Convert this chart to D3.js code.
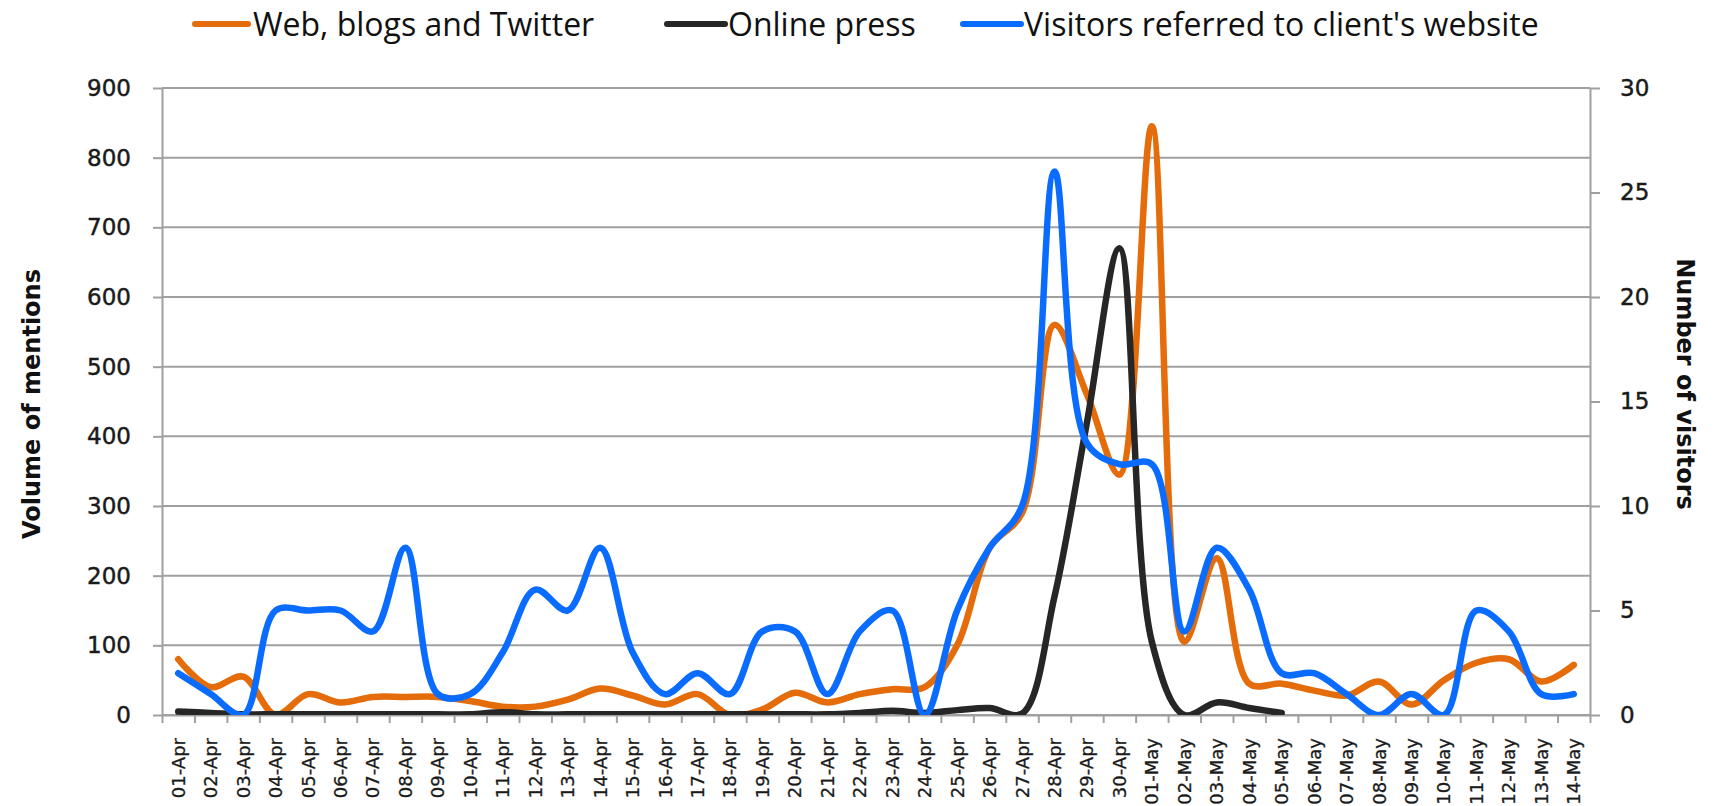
<!DOCTYPE html>
<html>
<head>
<meta charset="utf-8">
<script src="https://cdn.jsdelivr.net/npm/d3@7"></script>
<style>
  html, body { margin: 0; padding: 0; background: #ffffff; }
  svg { display: block; }
</style>
</head>
<body>
<svg id="chart" width="1723" height="806"></svg>
<script>
// Daily categories, 1 April to 14 May
const dates = [
  "01-Apr","02-Apr","03-Apr","04-Apr","05-Apr","06-Apr","07-Apr","08-Apr","09-Apr","10-Apr",
  "11-Apr","12-Apr","13-Apr","14-Apr","15-Apr","16-Apr","17-Apr","18-Apr","19-Apr","20-Apr",
  "21-Apr","22-Apr","23-Apr","24-Apr","25-Apr","26-Apr","27-Apr","28-Apr","29-Apr","30-Apr",
  "01-May","02-May","03-May","04-May","05-May","06-May","07-May","08-May","09-May","10-May",
  "11-May","12-May","13-May","14-May"
];

// Volume of mentions on the web, blogs and Twitter (left axis)
const webMentions = [
  80, 40, 55, 0, 30, 18, 26, 26, 26, 20,
  12, 12, 22, 38, 28, 15, 30, 0, 8, 32,
  18, 30, 37, 40, 100, 240, 290, 560, 460, 345,
  845, 105, 225, 45, 45, 35, 28, 48, 15, 50,
  75, 80, 48, 72
];

// Volume of mentions in the online press (left axis); no data after 05-May
const pressMentions = [
  5, 3, 1, 1, 1, 1, 1, 1, 1, 1,
  4, 1, 1, 1, 1, 1, 1, 1, 1, 1,
  1, 3, 6, 3, 7, 10, 2, 170, 420, 670,
  105, 0, 18, 10, 3, null, null, null, null, null,
  null, null, null, null
];

// Visitors referred to the client's website (right axis)
const visitors = [
  2, 1, 0, 5, 5, 5, 4, 8, 1, 1,
  3, 6, 5, 8, 3, 1, 2, 1, 4, 4,
  1, 4, 5, 0, 5, 8, 10, 26, 13, 12,
  12, 4, 8, 6, 2, 2, 1, 0, 1, 0,
  5, 4, 1, 1
];

const mentionTicks = [0, 100, 200, 300, 400, 500, 600, 700, 800, 900];
const visitorTicks = [0, 5, 10, 15, 20, 25, 30];

const seriesNames = ["Web, blogs and Twitter", "Online press", "Visitors referred to client's website"];

// ---- layout ----
const plot = { left: 162, right: 1590, top: 88, bottom: 715 };
const colors = { web: "#e46c0a", press: "#262626", visitors: "#0a6cff" };
const gridColor = "#a0a0a0";
const textColor = "#1a1a1a";
const tickFont = "'DejaVu Sans', Verdana, sans-serif";

const svg = d3.select("#chart");

const x = d3.scaleBand().domain(dates).range([plot.left, plot.right]).paddingInner(0).paddingOuter(0);
const xEdge = d3.scaleLinear().domain([0, dates.length]).range([plot.left, plot.right]);
const yL = d3.scaleLinear().domain([0, 900]).range([plot.bottom, plot.top]);
const yR = d3.scaleLinear().domain([0, 30]).range([plot.bottom, plot.top]);
const cx = d => x(d) + x.bandwidth() / 2;

// horizontal gridlines from the left axis
svg.append("g")
  .selectAll("line")
  .data(mentionTicks)
  .join("line")
  .attr("x1", plot.left).attr("x2", plot.right)
  .attr("y1", d => yL(d)).attr("y2", d => yL(d))
  .attr("stroke", gridColor).attr("stroke-width", 2);

function styleTickText(sel) {
  sel.attr("font-family", tickFont).attr("font-size", 23).attr("fill", textColor)
    .attr("stroke", textColor).attr("stroke-width", 0.45);
}

// left axis
const leftAxis = svg.append("g")
  .attr("transform", `translate(${plot.left},0)`)
  .call(d3.axisLeft(yL).tickValues(mentionTicks).tickSize(9).tickSizeOuter(0).tickPadding(22));
leftAxis.select(".domain").attr("stroke", gridColor).attr("stroke-width", 2);
leftAxis.selectAll(".tick line").attr("stroke", gridColor).attr("stroke-width", 2);
leftAxis.selectAll(".tick text").call(styleTickText);

// right axis
const rightAxis = svg.append("g")
  .attr("transform", `translate(${plot.right},0)`)
  .call(d3.axisRight(yR).tickValues(visitorTicks).tickSize(10).tickSizeOuter(0).tickPadding(20));
rightAxis.select(".domain").attr("stroke", gridColor).attr("stroke-width", 2);
rightAxis.selectAll(".tick line").attr("stroke", gridColor).attr("stroke-width", 2);
rightAxis.selectAll(".tick text").call(styleTickText);

// bottom axis: tick marks between categories
const bottomAxis = svg.append("g")
  .attr("transform", `translate(0,${plot.bottom})`)
  .call(d3.axisBottom(xEdge).tickValues(d3.range(0, dates.length + 1)).tickSize(8).tickSizeOuter(0).tickFormat(""));
bottomAxis.select(".domain").attr("stroke", gridColor).attr("stroke-width", 2);
bottomAxis.selectAll(".tick line").attr("stroke", gridColor).attr("stroke-width", 2);

// rotated category labels
svg.append("g")
  .selectAll("text")
  .data(dates)
  .join("text")
  .attr("transform", d => `translate(${cx(d)},738) rotate(-90)`)
  .attr("text-anchor", "end")
  .attr("dy", "0.36em")
  .attr("font-family", tickFont)
  .attr("font-size", 18)
  .attr("fill", textColor)
  .attr("stroke", textColor).attr("stroke-width", 0.3)
  .text(d => d);

// axis titles
svg.append("text")
  .attr("transform", `translate(40,404) rotate(-90)`)
  .attr("text-anchor", "middle")
  .attr("font-family", tickFont).attr("font-weight", "bold").attr("font-size", 24)
  .attr("fill", "#111")
  .text("Volume of mentions");

svg.append("text")
  .attr("transform", `translate(1677,384) rotate(90)`)
  .attr("text-anchor", "middle")
  .attr("font-family", tickFont).attr("font-weight", "bold").attr("font-size", 24)
  .attr("fill", "#111")
  .text("Number of visitors");

// clip the smoothed lines to the plot area
svg.append("defs").append("clipPath").attr("id", "plot-clip")
  .append("rect")
  .attr("x", plot.left).attr("y", plot.top)
  .attr("width", plot.right - plot.left).attr("height", plot.bottom - plot.top);

const lines = svg.append("g").attr("clip-path", "url(#plot-clip)");
const curve = d3.curveCatmullRom.alpha(0.5);

function drawSeries(values, yScale, color) {
  const rows = dates.map((d, i) => ({ d, v: values[i] }));
  const line = d3.line()
    .defined(r => r.v !== null)
    .x(r => cx(r.d))
    .y(r => yScale(r.v))
    .curve(curve);
  lines.append("path")
    .datum(rows)
    .attr("d", line)
    .attr("fill", "none")
    .attr("stroke", color)
    .attr("stroke-width", 6.5)
    .attr("stroke-linejoin", "round")
    .attr("stroke-linecap", "round");
}

drawSeries(webMentions, yL, colors.web);
drawSeries(pressMentions, yL, colors.press);
drawSeries(visitors, yR, colors.visitors);

// legend
const legendItems = [
  { name: seriesNames[0], color: colors.web, x0: 195, x1: 248, tx: 253 },
  { name: seriesNames[1], color: colors.press, x0: 667, x1: 725, tx: 728 },
  { name: seriesNames[2], color: colors.visitors, x0: 963, x1: 1021, tx: 1024 }
];
const legend = svg.append("g");
legendItems.forEach(item => {
  legend.append("line")
    .attr("x1", item.x0).attr("x2", item.x1)
    .attr("y1", 24).attr("y2", 24)
    .attr("stroke", item.color).attr("stroke-width", 6)
    .attr("stroke-linecap", "round");
  legend.append("text")
    .attr("x", item.tx).attr("y", 36)
    .attr("font-family", "'Open Sans', 'Noto Sans', sans-serif")
    .attr("font-size", 32)
    .attr("fill", "#111")
    .text(item.name);
});
</script>
</body>
</html>
